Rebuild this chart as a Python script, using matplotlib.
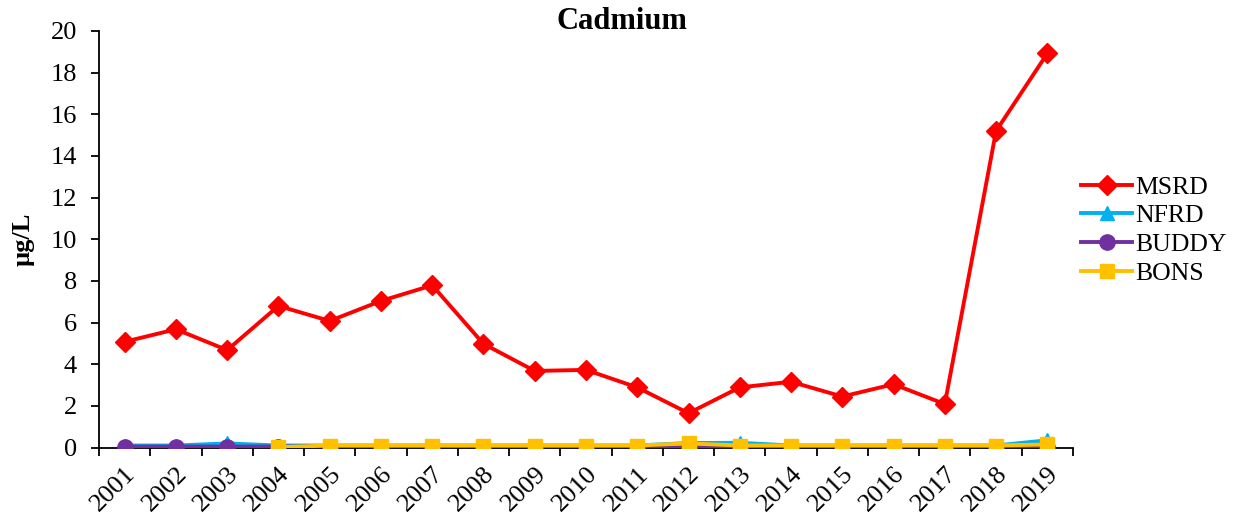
import numpy as np
from matplotlib import pyplot as plt
import matplotlib

matplotlib.rcParams['font.family'] = 'serif'
matplotlib.rcParams['font.serif'] = ['Liberation Serif', 'DejaVu Serif']
matplotlib.rcParams['font.size'] = 19

# data
years = [str(y) for y in range(2001, 2020)]
msrd = [5.08, 5.68, 4.68, 6.80, 6.08, 7.04, 7.79, 4.98, 3.68, 3.73,
        2.89, 1.65, 2.89, 3.16, 2.45, 3.04, 2.09, 15.2, 18.92]
nfrd = [0.10, 0.10, 0.20, 0.10, 0.10, 0.10, 0.10, 0.10, 0.10, 0.10,
        0.10, 0.22, 0.23, 0.10, 0.10, 0.10, 0.10, 0.10, 0.35]
buddy = [0.05, 0.05, 0.05, 0.05, 0.05, 0.05, 0.05, 0.05, 0.05, 0.05,
         0.05, 0.01, 0.05, 0.05, 0.05, 0.05, 0.05, 0.05, 0.05]
bons = [np.nan, np.nan, np.nan, 0.02, 0.10, 0.10, 0.10, 0.10, 0.10, 0.10,
        0.10, 0.20, 0.10, 0.10, 0.10, 0.10, 0.10, 0.10, 0.15]

fig = plt.figure(figsize=(12.44, 5.19), dpi=100)
ax = fig.add_axes([0.0796, 0.1376, 0.8625 - 0.0796, 0.9403 - 0.1376])

x = np.arange(len(years))
ax.plot(x, msrd, color='#FF0000', marker='D', markersize=10, linewidth=2.8, label='MSRD')
ax.plot(x, nfrd, color='#00B0F0', marker='^', markersize=10, linewidth=2.8, label='NFRD')
ax.plot(x, buddy, color='#7030A0', marker='o', markersize=11, linewidth=2.8, label='BUDDY')
ax.plot(x, bons, color='#FFC000', marker='s', markersize=10.5, linewidth=2.8, label='BONS')

ax.set_xlim(-0.5, len(years) - 0.5)
ax.set_ylim(0, 20)
ax.set_yticks(range(0, 21, 2))
ax.set_xticks(x)
ax.set_xticklabels(years, rotation=45, ha='right', va='top', rotation_mode='anchor')
ax.set_xticks(np.arange(-0.5, len(years), 1), minor=True)
ax.tick_params(axis='x', which='major', length=0, pad=11, labelsize=19)
ax.tick_params(axis='x', which='minor', length=6, width=1.3, direction='out')
ax.tick_params(axis='y', length=6, width=1.3, direction='out', pad=10, labelsize=19)

for s in ['top', 'right']:
    ax.spines[s].set_visible(False)
for s in ['left', 'bottom']:
    ax.spines[s].set_linewidth(1.3)
ax.spines['bottom'].set_zorder(0)

ax.set_ylabel('µg/L', fontweight='bold', labelpad=11)
fig.text(0.5, 0.958, 'Cadmium', ha='center', va='center', fontsize=22, fontweight='bold')

ax.legend(loc='center left', bbox_to_anchor=(0.995, 0.522), frameon=False,
          handlelength=2.0, handletextpad=0.1, labelspacing=0.22, borderpad=0,
          fontsize=18.5)

plt.savefig('out.png', dpi=100)
